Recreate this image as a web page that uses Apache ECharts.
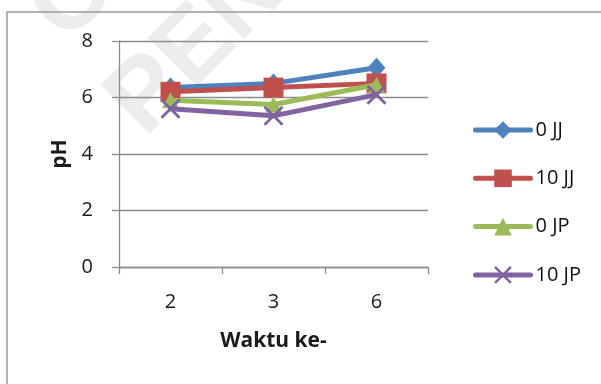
<!DOCTYPE html>
<html>
<head>
<meta charset="utf-8">
<script src="https://cdn.jsdelivr.net/npm/echarts@6/dist/echarts.min.js"></script>
<style>
  html, body { margin: 0; padding: 0; background: #fff; }
  #chart { width: 601px; height: 384px; }
</style>
</head>
<body>
<div id="chart"></div>
<script>
// Sampling times (x categories)
const categories = ['2', '3', '6'];

// pH readings per treatment
const seriesNames = ['0 JJ', '10 JJ', '0 JP', '10 JP'];
const ph0JJ  = [6.35, 6.5, 7.05];
const ph10JJ = [6.2, 6.35, 6.5];
const ph0JP  = [5.9, 5.75, 6.45];
const ph10JP = [5.6, 5.35, 6.1];

const yTicks = { min: 0, max: 8, interval: 2 };

const colors = ['#4F81BD', '#C0504D', '#9BBB59', '#8064A2'];
const crossPath = 'path://M2,0 L10,8 L18,0 L20,2 L12,10 L20,18 L18,20 L10,12 L2,20 L0,18 L8,10 L0,2 Z';
const symbols = ['diamond', 'rect', 'triangle', crossPath];
const symbolSizes = [[18, 20], 20, [17, 16], 20];
const values = [ph0JJ, ph10JJ, ph0JP, ph10JP];

const font = '"Open Sans", sans-serif';
const gray = '#8c8c8c';

const chart = echarts.init(document.getElementById('chart'), null, { renderer: 'canvas' });

chart.setOption({
  animation: false,
  color: colors,
  textStyle: { fontFamily: font },
  graphic: [
    {
      type: 'text', z: -10, silent: true,
      x: 198, y: 46, rotation: Math.PI / 4,
      style: { text: 'PEN', fontSize: 100, fontWeight: 'bold', fontFamily: 'Arial, sans-serif',
               fill: '#ececec', align: 'center', verticalAlign: 'middle' }
    },
    {
      type: 'text', z: -10, silent: true,
      x: 100, y: -28, rotation: Math.PI / 4,
      style: { text: 'CO', fontSize: 100, fontWeight: 'bold', fontFamily: 'Arial, sans-serif',
               fill: '#ececec', align: 'center', verticalAlign: 'middle' }
    },
    {
      type: 'rect', z: -5, silent: true,
      shape: { x: 7, y: 12, width: 700, height: 500 },
      style: { fill: 'none', stroke: '#999', lineWidth: 1.5 }
    }
  ],
  grid: { left: 119, right: 173, top: 41, bottom: 117, containLabel: false },
  legend: {
    orient: 'vertical',
    left: 468,
    top: 115,
    itemWidth: 55,
    itemHeight: 22,
    itemGap: 28.3,
    lineStyle: { width: 5, cap: 'round' },
    textStyle: { fontSize: 20, color: '#111', fontFamily: font },
    data: seriesNames
  },
  xAxis: {
    type: 'category',
    data: categories,
    boundaryGap: true,
    name: 'Waktu ke-',
    nameLocation: 'middle',
    nameGap: 64,
    nameTextStyle: { fontSize: 21, fontWeight: 'bold', color: '#1a1a1a', fontFamily: font },
    axisLine: { lineStyle: { color: gray, width: 1.3 } },
    axisTick: { show: true, length: 7, interval: 0, lineStyle: { color: gray, width: 1.3 } },
    axisLabel: { fontSize: 20, color: '#1a1a1a', margin: 25, fontFamily: font },
    splitLine: { show: false }
  },
  yAxis: {
    type: 'value',
    min: yTicks.min,
    max: yTicks.max,
    interval: yTicks.interval,
    name: 'pH',
    nameLocation: 'middle',
    nameRotate: 90,
    nameGap: 48,
    nameTextStyle: { fontSize: 21, fontWeight: 'bold', color: '#1a1a1a', fontFamily: font },
    axisLine: { show: true, lineStyle: { color: gray, width: 1.3 } },
    axisTick: { show: true, length: 7, lineStyle: { color: gray, width: 1.3 } },
    axisLabel: { fontSize: 20, color: '#1a1a1a', margin: 26, fontFamily: font },
    splitLine: { show: true, lineStyle: { color: gray, width: 1.3 } }
  },
  series: seriesNames.map((name, i) => ({
    name,
    type: 'line',
    data: values[i],
    symbol: symbols[i],
    symbolSize: symbolSizes[i],
    showAllSymbol: true,
    lineStyle: { width: 5, color: colors[i], cap: 'round', join: 'round' },
    itemStyle: { color: colors[i], opacity: 1 },
    z: 2 + i
  }))
});
</script>
</body>
</html>
